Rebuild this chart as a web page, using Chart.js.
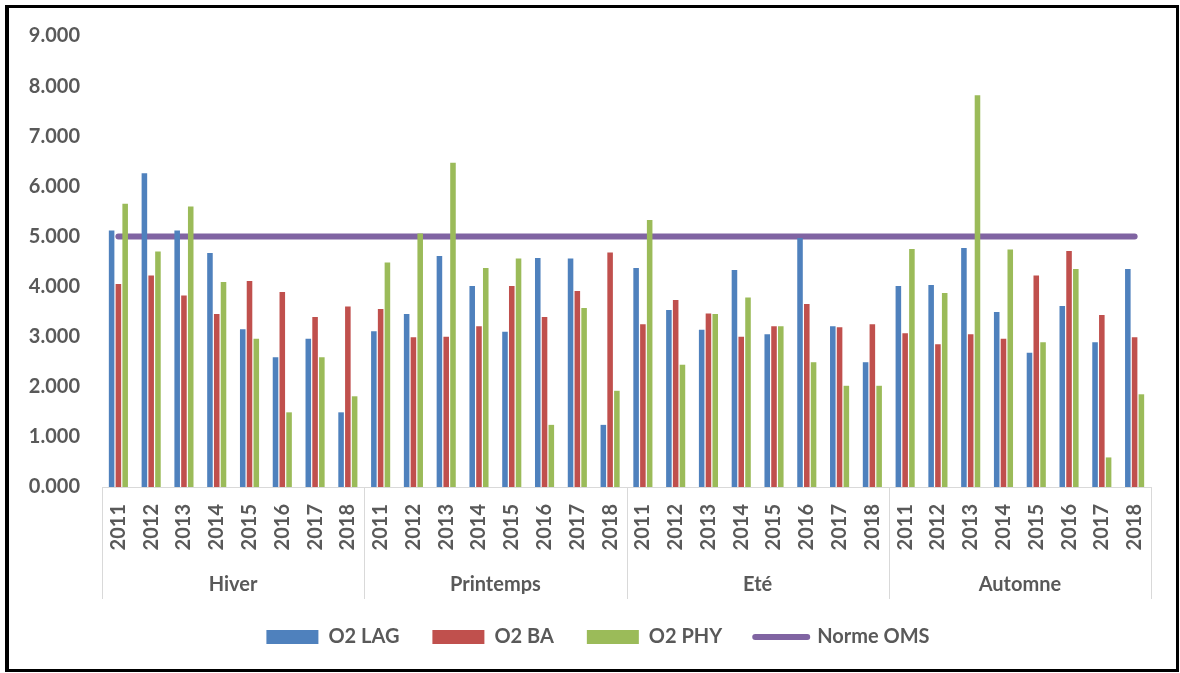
<!DOCTYPE html>
<html>
<head>
<meta charset="utf-8">
<script src="https://cdn.jsdelivr.net/npm/chart.js@4.4.1/dist/chart.umd.min.js"></script>
<style>
  html, body { margin: 0; padding: 0; background: #fff; overflow: hidden; }
  canvas { position: absolute; left: 0; top: 0; }
  #cadre {
    position: absolute; left: 5px; top: 5px; width: 1174px; height: 667px;
    box-sizing: border-box; border: 3px solid #000; border-left-width: 4px;
    pointer-events: none;
  }
</style>
</head>
<body>
<canvas id="graphique" width="1180" height="673"></canvas>
<div id="cadre"></div>
<script>
// saisons et années (axe à deux niveaux)
const saisons = ['Hiver', 'Printemps', 'Eté', 'Automne'];
const annees = ['2011', '2012', '2013', '2014', '2015', '2016', '2017', '2018'];
const graduationsY = [0, 1, 2, 3, 4, 5, 6, 7, 8, 9];

// valeurs, 8 années par saison
const o2Lag = [
    5.12, 6.26, 5.12, 4.67, 3.15, 2.59, 2.96, 1.49,
    3.11, 3.45, 4.61, 4.01, 3.10, 4.57, 4.56, 1.24,
    4.37, 3.53, 3.14, 4.33, 3.05, 4.97, 3.21, 2.49,
    4.01, 4.03, 4.77, 3.49, 2.68, 3.61, 2.89, 4.35
];
const o2Ba = [
    4.05, 4.22, 3.82, 3.45, 4.11, 3.89, 3.39, 3.60,
    3.55, 2.99, 3.00, 3.21, 4.01, 3.39, 3.91, 4.68,
    3.25, 3.73, 3.46, 3.00, 3.21, 3.65, 3.19, 3.25,
    3.07, 2.85, 3.05, 2.96, 4.22, 4.71, 3.43, 2.99
];
const o2Phy = [
    5.65, 4.70, 5.60, 4.09, 2.96, 1.49, 2.59, 1.81,
    4.48, 5.06, 6.47, 4.37, 4.56, 1.24, 3.57, 1.92,
    5.33, 2.44, 3.45, 3.78, 3.21, 2.49, 2.02, 2.02,
    4.75, 3.87, 7.82, 4.74, 2.89, 4.35, 0.59, 1.85
];
const normeOms = [
    5, 5, 5, 5, 5, 5, 5, 5,
    5, 5, 5, 5, 5, 5, 5, 5,
    5, 5, 5, 5, 5, 5, 5, 5,
    5, 5, 5, 5, 5, 5, 5, 5
];

const etiquettes = [];
saisons.forEach(() => annees.forEach(a => etiquettes.push(a)));

const gris = '#595959';
const police = { family: 'Lato', weight: 'bold', size: 20 };

// traits verticaux entre les saisons, sous l'axe
const separateurs = {
    id: 'separateurs',
    afterDraw(chart) {
        const { ctx } = chart;
        const x = chart.scales.x;
        const x2 = chart.scales.x2;
        const limites = [x.left];
        for (let i = 1; i < saisons.length; i++) {
            const n = i * annees.length;
            limites.push((x.getPixelForTick(n - 1) + x.getPixelForTick(n)) / 2);
        }
        limites.push(x.right);
        ctx.save();
        ctx.strokeStyle = '#d9d9d9';
        ctx.lineWidth = 1;
        ctx.beginPath();
        limites.forEach(px => {
            const p = Math.round(px) + 0.5;
            ctx.moveTo(p, x.top);
            ctx.lineTo(p, x2.bottom + 5);
        });
        ctx.stroke();
        ctx.restore();
    }
};

new Chart(document.getElementById('graphique').getContext('2d'), {
    type: 'bar',
    data: {
        labels: etiquettes,
        datasets: [
            { label: 'O2 LAG', data: o2Lag, backgroundColor: '#4F81BD', order: 0, xAxisID: 'x', yAxisID: 'y' },
            { label: 'O2 BA', data: o2Ba, backgroundColor: '#C0504D', order: 0, xAxisID: 'x', yAxisID: 'y' },
            { label: 'O2 PHY', data: o2Phy, backgroundColor: '#9BBB59', order: 0, xAxisID: 'x', yAxisID: 'y' },
            {
                type: 'line', label: 'Norme OMS', data: normeOms,
                borderColor: '#8064A2', backgroundColor: '#8064A2',
                borderWidth: 6, borderCapStyle: 'round',
                pointRadius: 0, order: 1, xAxisID: 'x', yAxisID: 'y'
            }
        ]
    },
    options: {
        responsive: false,
        animation: false,
        devicePixelRatio: 1,
        datasets: {
            bar: { categoryPercentage: 0.62, barPercentage: 0.82 }
        },
        layout: { padding: { left: 16, right: 0, top: 36, bottom: 16 } },
        scales: {
            y: {
                min: 0, max: 9,
                afterBuildTicks: axis => { axis.ticks = graduationsY.map(v => ({ value: v })); },
                afterFit: scale => { scale.width = 86; },
                grid: { display: false, drawTicks: false },
                border: { display: false },
                ticks: {
                    color: gris, font: police, padding: 22,
                    callback: v => v.toFixed(3)
                }
            },
            // marge de droite (aucun tracé)
            yDroite: {
                position: 'right',
                min: 0, max: 9,
                afterFit: scale => { scale.width = 29; },
                grid: { display: false, drawTicks: false },
                border: { display: false },
                ticks: { display: false }
            },
            x: {
                grid: { display: false, drawTicks: false },
                border: { display: true, color: '#d9d9d9', width: 1 },
                afterFit: scale => { scale.height = 66; },
                ticks: {
                    color: gris, font: police, padding: 17,
                    minRotation: 90, maxRotation: 90, autoSkip: false
                }
            },
            x2: {
                type: 'category',
                position: 'bottom',
                weight: 1,
                labels: saisons,
                grid: { display: false, drawTicks: false },
                border: { display: false },
                afterFit: scale => { scale.height = 41; },
                ticks: { color: gris, font: police, padding: 20 }
            }
        },
        plugins: {
            tooltip: { enabled: false },
            legend: {
                position: 'bottom',
                labels: {
                    color: gris, font: police,
                    usePointStyle: true, pointStyleWidth: 52, boxHeight: 14, padding: 33,
                    generateLabels(chart) {
                        const items = Chart.defaults.plugins.legend.labels.generateLabels(chart);
                        items.forEach(item => {
                            const ds = chart.data.datasets[item.datasetIndex];
                            if (ds.type === 'line') {
                                item.pointStyle = 'line';
                                item.lineWidth = 6;
                                item.lineCap = 'round';
                                item.strokeStyle = ds.borderColor;
                            } else {
                                item.pointStyle = 'rect';
                                item.lineWidth = 0;
                            }
                        });
                        return items;
                    }
                }
            }
        }
    },
    plugins: [separateurs]
});
</script>
</body>
</html>
